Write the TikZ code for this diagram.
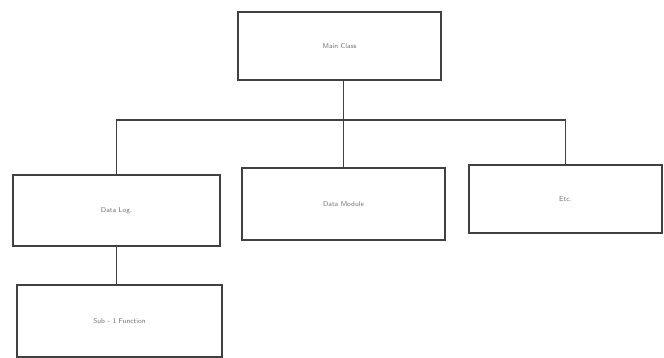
\documentclass[tikz,border=0pt]{standalone}
\usepackage{tikz}
\usetikzlibrary{calc}

\begin{document}
\begin{tikzpicture}[x=1pt,y=-1pt,
                    thin,box node/.style={rectangle,fill=white,draw=black!75,line width=1.2pt,font=\sffamily\fontsize{7}{8}\selectfont,text=black!55,inner sep=0pt},
                    link/.style={draw=black!75,line width=1.1pt}]
\useasboundingbox (0,0) rectangle (664,358);

\node [box node,minimum width=203pt,minimum height=68pt] (Main) at (339.5,46) {Main Class};
\node [box node,minimum width=207pt,minimum height=71pt] (DataLog) at (116.5,210.5) {Data Log.};
\node [box node,minimum width=203pt,minimum height=72pt] (DataMod) at (343.5,204) {Data Module};
\node [box node,minimum width=193pt,minimum height=68pt] (Etc) at (565.5,199) {Etc.};
\node [box node,minimum width=205pt,minimum height=72pt] (SubFn) at (119.5,321) {Sub - 1 Function};

\coordinate (BusRight) at (570,120);

\draw[link] (Main.south -| DataMod.north) -- (DataMod.north);
\draw[link] (DataLog.north) |- (BusRight -| Etc.north) -- (Etc.north);
\draw[link] (DataLog.south) -- (DataLog.south |- SubFn.north);

\end{tikzpicture}
\end{document}
